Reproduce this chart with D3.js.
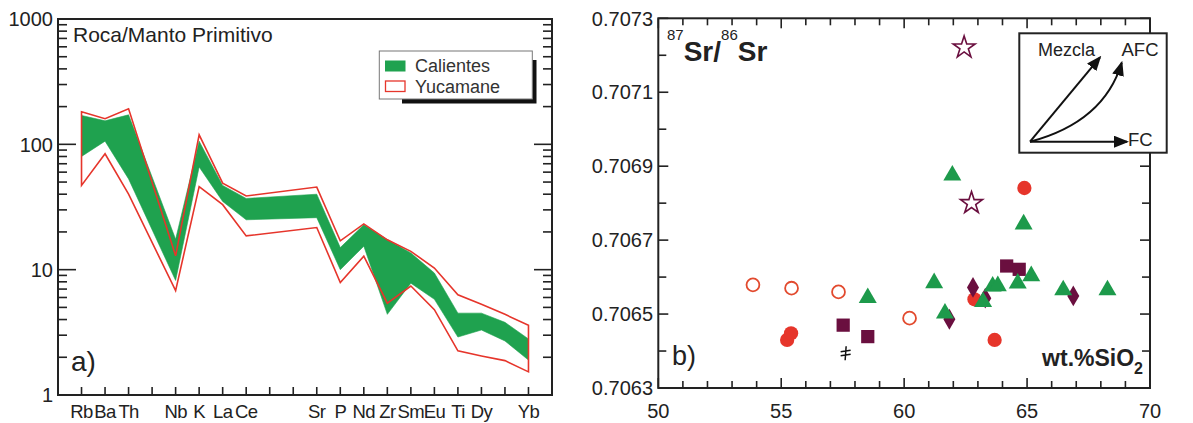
<!DOCTYPE html>
<html><head><meta charset="utf-8">
<script src="https://cdn.jsdelivr.net/npm/d3@7/dist/d3.min.js"></script>
<style>
body{margin:0;background:#fff}
svg{display:block;font-family:"Liberation Sans",Arial,Helvetica,sans-serif}
</style>
</head><body>
<svg id="c" width="1193" height="423"></svg>
<script>
// ---------- Panel a) data: spider diagram (Rock / Primitive mantle) ----------
const elements = ["Rb","Ba","Th","","Nb","K","La","Ce","","","Sr","P","Nd","Zr","Sm","Eu","Ti","Dy","","Yb"];
const calientesUpper = [170,154,172,null,17.5,106,47,37,null,null,40,15,22.8,17.4,13.6,9.4,4.5,4.5,3.8,2.8];
const calientesLower = [80,106,53,null,8.2,66,35,25,null,null,26,10,15.4,4.4,7.8,5.8,2.9,3.3,2.7,1.9];
const yucamaneUpper  = [182,160,192,null,12.9,119,49,38.7,null,null,45.6,17,23.2,17.3,14,10.3,6.3,5.3,4.4,3.6];
const yucamaneLower  = [47,84,40,null,6.8,46,33,18.6,null,null,21.7,7.9,12.8,5.4,7.4,4.8,2.25,2.05,1.88,1.53];
const yTicksA = [1,10,100,1000];
const legendA = ["Calientes","Yucamane"];

// ---------- Panel b) data: 87Sr/86Sr vs SiO2 ----------
const openCircX = [53.85,55.42,57.33,60.22];
const openCircY = [0.706579,0.706570,0.706560,0.706489];
const redCircX = [55.24,55.40,62.86,63.68,64.89];
const redCircY = [0.706430,0.706448,0.706540,0.706430,0.706841];
const diamondX = [61.84,62.80,63.30,66.88];
const diamondY = [0.706486,0.706572,0.706543,0.706549];
const squareX = [57.52,58.52,64.17,64.68];
const squareY = [0.706470,0.706439,0.706630,0.706621];
const triX = [58.52,61.22,61.66,61.96,63.21,63.60,63.81,64.62,64.86,65.17,66.47,68.27];
const triY = [0.706544,0.706584,0.706502,0.706875,0.706533,0.706575,0.706576,0.706583,0.706743,0.706603,0.706565,0.706565];
const starX = [62.44,62.74];
const starY = [0.707221,0.706800];
const crossX = [57.62];
const crossY = [0.706394];
const xTicksB = [50,55,60,65,70];
const yTicksB = [0.7063,0.7065,0.7067,0.7069,0.7071,0.7073];

const GREEN = "#1fa24f", RED = "#e6352b", MAROON = "#6a0f3f", INK = "#222";
const svg = d3.select("#c");

// ================= Panel a =================
const xA = d3.scaleLinear().domain([-1,20]).range([58,552]);
const yA = d3.scaleLog().domain([1,1000]).range([395,19]);
const gA = svg.append("g");

const idx = d3.range(elements.length).filter(i => calientesUpper[i] != null);
const area = d3.area().x(i => xA(i)).y0(i => yA(calientesLower[i])).y1(i => yA(calientesUpper[i])).curve(d3.curveLinear);
gA.append("path").attr("d", area(idx)).attr("fill", GREEN).attr("stroke", GREEN).attr("stroke-width",0.6);

const yIdx = d3.range(elements.length).filter(i => yucamaneUpper[i] != null);
const pts = yIdx.map(i => [xA(i), yA(yucamaneUpper[i])]).concat(yIdx.slice().reverse().map(i => [xA(i), yA(yucamaneLower[i])]));
gA.append("path").attr("d", d3.line()(pts) + "Z").attr("fill","none").attr("stroke", RED).attr("stroke-width",1.6).attr("stroke-linejoin","miter");

// frame
gA.append("rect").attr("x",58).attr("y",19).attr("width",494).attr("height",376).attr("fill","none").attr("stroke",INK).attr("stroke-width",2);
// log ticks left & right
yA.ticks().forEach(v => {
  const major = yTicksA.includes(v);
  const len = major ? 18 : 9;
  gA.append("line").attr("x1",58).attr("x2",58+len).attr("y1",yA(v)).attr("y2",yA(v)).attr("stroke",INK).attr("stroke-width",1.6);
  gA.append("line").attr("x1",552).attr("x2",552-len).attr("y1",yA(v)).attr("y2",yA(v)).attr("stroke",INK).attr("stroke-width",1.6);
});
yTicksA.forEach(v => {
  gA.append("text").attr("x",53).attr("y",yA(v)).attr("dy","0.36em").attr("text-anchor","end")
    .attr("font-size",20).attr("fill",INK).text(v);
});
// element ticks
elements.forEach((e,i) => {
  gA.append("line").attr("x1",xA(i)).attr("x2",xA(i)).attr("y1",395).attr("y2",387).attr("stroke",INK).attr("stroke-width",1.6);
  if (e) gA.append("text").attr("x",xA(i)).attr("y",418).attr("text-anchor","middle").attr("font-size",18.5)
    .attr("letter-spacing",-0.6).attr("fill",INK).text(e);
});
gA.append("text").attr("x",73).attr("y",42).attr("font-size",21).attr("fill",INK).text("Roca/Manto Primitivo");
gA.append("text").attr("x",71).attr("y",371).attr("font-size",28).attr("fill",INK).text("a)");

// legend
const lg = gA.append("g");
lg.append("path").attr("d","M532.3,60 H536.5 V103.5 H402 V99 H532.3 Z").attr("fill","#111");
lg.append("rect").attr("x",379.3).attr("y",51).attr("width",153).attr("height",48).attr("fill","#fff").attr("stroke","#777").attr("stroke-width",1);
lg.append("rect").attr("x",385).attr("y",60.5).attr("width",20.5).attr("height",11).attr("fill",GREEN);
lg.append("rect").attr("x",385.5).attr("y",81).attr("width",19.5).attr("height",10.5).attr("fill","#fff").attr("stroke",RED).attr("stroke-width",1.3);
lg.append("text").attr("x",415).attr("y",71.5).attr("font-size",18).attr("fill","#333").text(legendA[0]);
lg.append("text").attr("x",415).attr("y",92.5).attr("font-size",18).attr("fill","#333").text(legendA[1]);

// ================= Panel b =================
const xB = d3.scaleLinear().domain([50,70]).range([658.3,1150]);
const yB = d3.scaleLinear().domain([0.7063,0.7073]).range([388,18.3]);
const gB = svg.append("g");

gB.append("rect").attr("x",658.3).attr("y",18.3).attr("width",491.7).attr("height",369.7).attr("fill","none").attr("stroke",INK).attr("stroke-width",2);
d3.range(50,71).forEach(v => {
  const len = (v % 5 === 0) ? 10 : 7;
  gB.append("line").attr("x1",xB(v)).attr("x2",xB(v)).attr("y1",388).attr("y2",388-len).attr("stroke",INK).attr("stroke-width",1.6);
  gB.append("line").attr("x1",xB(v)).attr("x2",xB(v)).attr("y1",18.3).attr("y2",18.3+len).attr("stroke",INK).attr("stroke-width",1.6);
});
d3.range(0,11).forEach(k => {
  const v = 0.7063 + k*0.0001;
  const len = (k % 2 === 0) ? 10 : 8;
  gB.append("line").attr("x1",658.3).attr("x2",658.3+len).attr("y1",yB(v)).attr("y2",yB(v)).attr("stroke",INK).attr("stroke-width",1.6);
  gB.append("line").attr("x1",1150).attr("x2",1150-len).attr("y1",yB(v)).attr("y2",yB(v)).attr("stroke",INK).attr("stroke-width",1.6);
});
xTicksB.forEach(v => gB.append("text").attr("x",xB(v)).attr("y",418).attr("text-anchor","middle").attr("font-size",20).attr("fill",INK).text(v));
yTicksB.forEach(v => gB.append("text").attr("x",653).attr("y",yB(v)).attr("dy","0.36em").attr("text-anchor","end").attr("font-size",20).attr("fill",INK).text(v.toFixed(4)));

// title
const t = gB.append("text").attr("x",667).attr("y",61).attr("fill",INK);
t.append("tspan").attr("font-size",15).attr("dy",-21).text("87");
t.append("tspan").attr("font-size",28).attr("font-weight","bold").attr("dy",21).text("Sr/");
t.append("tspan").attr("font-size",15).attr("dy",-21).text("86");
t.append("tspan").attr("font-size",28).attr("font-weight","bold").attr("dy",21).text("Sr");

const w = gB.append("text").attr("x",1143).attr("y",366).attr("text-anchor","end").attr("fill",INK).attr("font-weight","bold").attr("font-size",23);
w.append("tspan").text("wt.%SiO");
w.append("tspan").attr("font-size",16).attr("dy",8).text("2");
gB.append("text").attr("x",672).attr("y",365).attr("font-size",27).attr("fill",INK).text("b)");

// inset
const ins = gB.append("g");
ins.append("rect").attr("x",1019.3).attr("y",33.3).attr("width",147.4).attr("height",119.4).attr("fill","#fff").attr("stroke",INK).attr("stroke-width",2);
const defs = svg.append("defs");
defs.append("marker").attr("id","ah").attr("viewBox","0 0 15 12").attr("refX",13).attr("refY",6)
  .attr("markerWidth",15).attr("markerHeight",12).attr("markerUnits","userSpaceOnUse").attr("orient","auto")
  .append("path").attr("d","M0,0 L15,6 L0,12 Z").attr("fill","#111");
const o = [1030,141.7];
ins.append("line").attr("x1",o[0]).attr("y1",o[1]).attr("x2",1100).attr("y2",57.3).attr("stroke","#111").attr("stroke-width",2).attr("marker-end","url(#ah)");
ins.append("path").attr("d",`M${o[0]},${o[1]} Q1104,122 1121.7,62.7`).attr("fill","none").attr("stroke","#111").attr("stroke-width",2).attr("marker-end","url(#ah)");
ins.append("line").attr("x1",o[0]).attr("y1",o[1]).attr("x2",1127).attr("y2",o[1]).attr("stroke","#111").attr("stroke-width",2).attr("marker-end","url(#ah)");
ins.append("text").attr("x",1038).attr("y",56).attr("font-size",18).attr("fill",INK).text("Mezcla");
ins.append("text").attr("x",1121.5).attr("y",56).attr("font-size",18.5).attr("fill",INK).text("AFC");
ins.append("text").attr("x",1128).attr("y",146).attr("font-size",18.5).attr("fill",INK).text("FC");

// markers
function plot(xs, ys, type, size, fill, stroke, sw) {
  const sym = d3.symbol().type(type).size(size);
  xs.forEach((x,i) => {
    gB.append("path").attr("d", sym()).attr("transform",`translate(${xB(x)},${yB(ys[i])})`)
      .attr("fill",fill).attr("stroke",stroke).attr("stroke-width",sw);
  });
}
plot(openCircX, openCircY, d3.symbolCircle, 130, "#fff", "#e24a2e", 1.8);
plot(redCircX, redCircY, d3.symbolCircle, 160, RED, "none", 0);
plot(squareX, squareY, d3.symbolSquare, 175, MAROON, "none", 0);
plot(diamondX, diamondY, d3.symbolDiamond, 125, MAROON, "none", 0);
plot(triX, triY, d3.symbolTriangle, 140, "#1d9a4b", "none", 0);
plot(starX, starY, d3.symbolStar, 150, "#fff", MAROON, 1.6);
crossX.forEach((x,i) => {
  gB.append("path").attr("d","M0.5,-7 L-0.5,7 M-5,-1.5 L5,-3 M-5,2.5 L5,1").attr("transform",`translate(${xB(x)},${yB(crossY[i])})`)
    .attr("fill","none").attr("stroke","#111").attr("stroke-width",1.5);
});
</script>
</body></html>
